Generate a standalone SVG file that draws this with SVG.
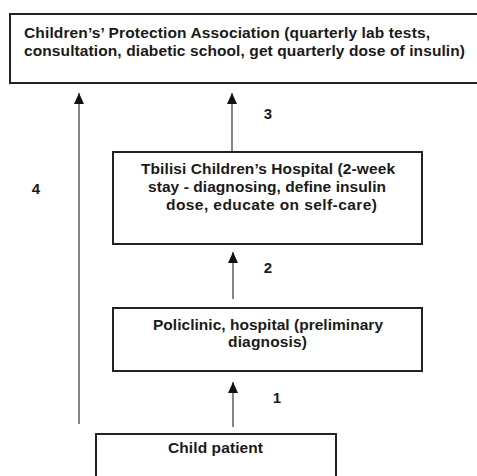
<svg xmlns="http://www.w3.org/2000/svg" width="477" height="476" viewBox="0 0 477 476">
<defs>
<marker id="ah" markerWidth="11" markerHeight="10" refX="11" refY="5" orient="auto" markerUnits="userSpaceOnUse" viewBox="0 0 11 10">
<path d="M0,0 L11,5 L0,10 Z" fill="#111"/>
</marker>
<style>
.box{fill:#fff;stroke:#222;stroke-width:2}
.t{font-family:"Liberation Sans",Arial,sans-serif;font-weight:bold;font-size:15.5px;fill:#1a1a1a}
.c{text-anchor:middle}
.ln{stroke:#444;stroke-width:1.3;fill:none}
.n{font-family:"Liberation Sans",Arial,sans-serif;font-weight:bold;font-size:15px;fill:#1a1a1a;text-anchor:middle}
</style>
</defs>
<rect width="477" height="476" fill="#fff"/>
<g id="connectors">
<line class="ln" x1="79" y1="424" x2="79" y2="93" marker-end="url(#ah)"/>
<line class="ln" x1="232" y1="152" x2="232" y2="93" marker-end="url(#ah)"/>
<line class="ln" x1="233" y1="299" x2="233" y2="252" marker-end="url(#ah)"/>
<line class="ln" x1="233" y1="427" x2="233" y2="382" marker-end="url(#ah)"/>
<text class="n" x="36" y="194">4</text>
<text class="n" x="268" y="119">3</text>
<text class="n" x="268" y="273">2</text>
<text class="n" x="277" y="403">1</text>
</g>
<g id="cpa">
<rect class="box" x="10" y="14" width="480" height="69"/>
<text class="t" x="24" y="38" textLength="406">Children’s’ Protection Association (quarterly lab tests,</text>
<text class="t" x="24" y="56" textLength="441">consultation, diabetic school, get quarterly dose of insulin)</text>
</g>
<g id="tbilisi">
<rect class="box" x="113" y="152" width="309" height="92"/>
<text class="t c" x="268" y="174" textLength="254">Tbilisi Children’s Hospital (2-week</text>
<text class="t c" x="267" y="192" textLength="238">stay - diagnosing, define insulin</text>
<text class="t c" x="271.5" y="209.5" textLength="211">dose, educate on self-care)</text>
</g>
<g id="policlinic">
<rect class="box" x="113" y="308" width="309" height="63"/>
<text class="t c" x="268" y="330" textLength="230">Policlinic, hospital (preliminary</text>
<text class="t c" x="267.5" y="347" textLength="79">diagnosis)</text>
</g>
<g id="child">
<rect class="box" x="96" y="434" width="240" height="60"/>
<text class="t c" x="215.5" y="453" textLength="95">Child patient</text>
</g>
</svg>
